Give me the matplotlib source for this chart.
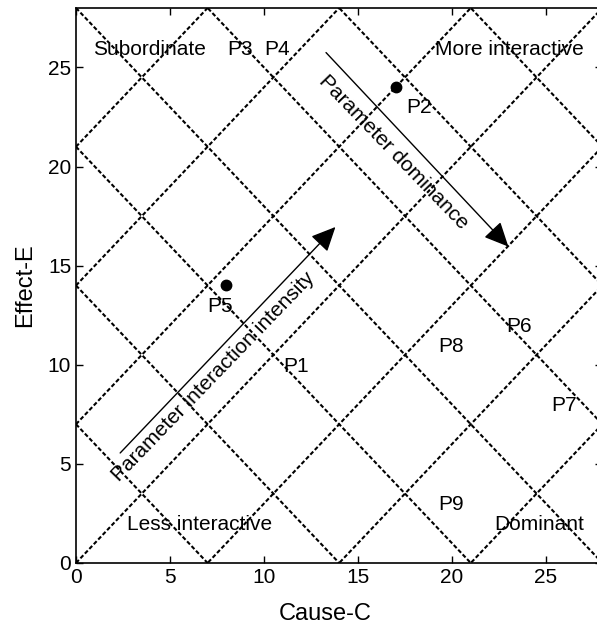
import matplotlib
matplotlib.use("Agg")
import matplotlib.pyplot as plt
import numpy as np
from matplotlib.patches import FancyArrowPatch

plt.rcParams['font.family'] = ['Liberation Sans', 'DejaVu Sans']

# ---- data ----
anti_diag_sums = [7, 14, 21, 28, 35, 42, 49]        # lines x + y = c
diag_offsets = [-21, -14, -7, 0, 7, 14, 21]          # lines y - x = c

point_names = ["P2", "P5"]
point_x = [17, 8]
point_y = [24, 14]

label_texts = ["Subordinate", "P3", "P4", "More interactive", "P2", "P5", "P1",
               "P8", "P6", "P7", "P9", "Less interactive", "Dominant"]
label_x = [0.89, 8.02, 10.0, 19.1, 17.55, 7.0, 11.0, 19.26, 22.9, 25.3, 19.26, 2.7, 22.23]
label_y = [25.63, 25.63, 25.63, 25.63, 22.7, 12.66, 9.64, 10.65, 11.65, 7.67, 2.67, 1.66, 1.66]

arrow_starts = [(2.35, 5.55), (13.3, 25.75)]
arrow_ends = [(13.8, 16.95), (23.0, 15.96)]
arrow_texts = ["Parameter interaction intensity", "Parameter dominance"]
arrow_text_pos = [(7.29, 9.38), (16.9, 20.7)]
arrow_text_rot = [46, -46]

xticks = [0, 5, 10, 15, 20, 25]
yticks = [0, 5, 10, 15, 20, 25]

# ---- figure ----
fig = plt.figure(figsize=(5.97, 6.27), dpi=100)
ax = fig.add_axes([0.1273, 0.1021, 0.8817, 0.8852])
ax.set_xlim(0, 28)
ax.set_ylim(0, 28)

xs = np.array([0, 28])
ls = (0, (2.0, 1.1))
for c in anti_diag_sums:
    ax.plot(xs, c - xs, color='black', lw=1.5, linestyle=ls)
for c in diag_offsets:
    ax.plot(xs, xs + c, color='black', lw=1.5, linestyle=ls)

ax.plot(point_x, point_y, 'o', color='black', markersize=7.5)

for t, x, y in zip(label_texts, label_x, label_y):
    ax.text(x, y, t, fontsize=15, ha='left', va='baseline')

for (s, e) in zip(arrow_starts, arrow_ends):
    arr = FancyArrowPatch(s, e, arrowstyle='-|>,head_length=0.75,head_width=0.35',
                          mutation_scale=20, color='black', lw=1.0,
                          shrinkA=0, shrinkB=0)
    ax.add_patch(arr)

for t, (x, y), r in zip(arrow_texts, arrow_text_pos, arrow_text_rot):
    ax.text(x, y, t, fontsize=15, rotation=r, ha='center', va='center',
            rotation_mode='anchor')

ax.set_xticks(xticks)
ax.set_yticks(yticks)
ax.tick_params(direction='in', top=True, right=True, length=5, labelsize=15, width=1)
for sp in ax.spines.values():
    sp.set_linewidth(1.2)
ax.set_xlabel("Cause-C", fontsize=17)
ax.set_ylabel("Effect-E", fontsize=17)
ax.xaxis.set_label_coords(0.473, -0.072)
ax.yaxis.set_label_coords(-0.075, 0.5)

fig.savefig("out.png", dpi=100)
